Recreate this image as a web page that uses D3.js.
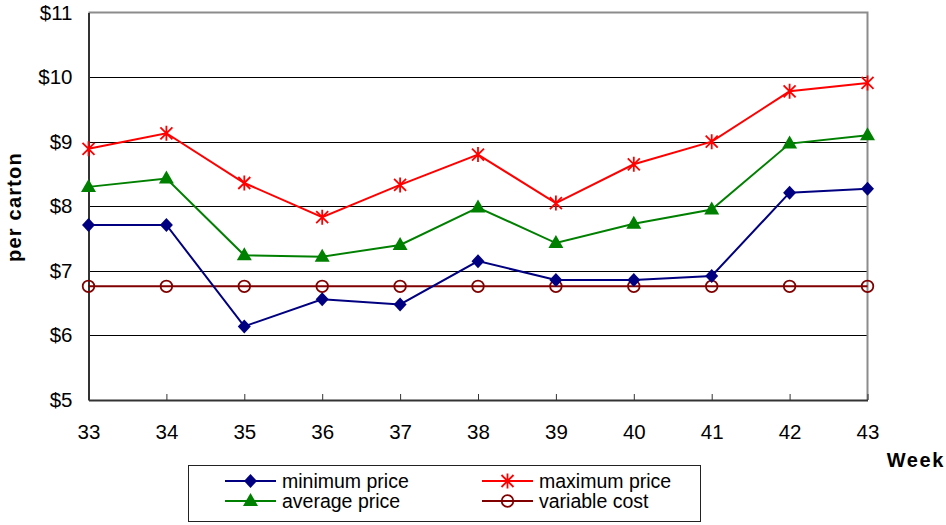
<!DOCTYPE html>
<html>
<head>
<meta charset="utf-8">
<script src="https://cdn.jsdelivr.net/npm/d3@7"></script>
<style>
  html, body { margin: 0; padding: 0; background: #fff; }
  svg { display: block; font-family: "Liberation Sans", Arial, sans-serif; }
</style>
</head>
<body>
<svg id="chart" width="946" height="525"></svg>
<script>
// Weekly carton prices
const weeks = [33, 34, 35, 36, 37, 38, 39, 40, 41, 42, 43];
const minPrice = [7.71, 7.71, 6.14, 6.56, 6.48, 7.15, 6.86, 6.86, 6.92, 8.21, 8.27];
const maxPrice = [8.89, 9.13, 8.36, 7.83, 8.33, 8.80, 8.05, 8.65, 9.00, 9.78, 9.91];
const avgPrice = [8.30, 8.43, 7.24, 7.22, 7.40, 7.98, 7.43, 7.73, 7.95, 8.97, 9.10];
const variableCost = [6.76, 6.76, 6.76, 6.76, 6.76, 6.76, 6.76, 6.76, 6.76, 6.76, 6.76];
const priceTicks = [5, 6, 7, 8, 9, 10, 11];

const seriesList = [
  { name: "minimum price", values: minPrice, color: "#000080", marker: "diamond" },
  { name: "maximum price", values: maxPrice, color: "#ff0000", marker: "asterisk" },
  { name: "average price", values: avgPrice, color: "#008000", marker: "triangle" },
  { name: "variable cost", values: variableCost, color: "#800000", marker: "circle" }
];

const svg = d3.select("#chart");
const plot = { left: 88.5, right: 867.5, top: 12.5, bottom: 400 };

const x = d3.scaleLinear().domain([33, 43]).range([plot.left, plot.right]);
const y = d3.scaleLinear().domain([5, 11]).range([plot.bottom, plot.top]);

// horizontal gridlines
svg.append("g")
  .selectAll("line")
  .data(priceTicks.slice(1, -1))
  .join("line")
  .attr("x1", plot.left).attr("x2", plot.right)
  .attr("y1", d => Math.round(y(d)) + 0.5).attr("y2", d => Math.round(y(d)) + 0.5)
  .attr("stroke", "#000").attr("stroke-width", 1.2);

// top and right frame
svg.append("path")
  .attr("d", `M${plot.left},${plot.top}H${plot.right}V${plot.bottom}`)
  .attr("fill", "none").attr("stroke", "#8c8c8c").attr("stroke-width", 2);

// y axis
const yAxis = svg.append("g")
  .attr("transform", `translate(${plot.left},0)`)
  .call(d3.axisLeft(y).tickValues(priceTicks).tickFormat(d => "$" + d).tickSize(0).tickPadding(16));
yAxis.select(".domain").attr("stroke", "#333").attr("stroke-width", 2);
yAxis.selectAll("text").attr("font-size", 20.5).attr("fill", "#000")
  .attr("font-family", "Liberation Sans, Arial, sans-serif");

// x axis with inward ticks
const xAxis = svg.append("g")
  .attr("transform", `translate(0,${plot.bottom})`)
  .call(d3.axisBottom(x).tickValues(weeks).tickFormat(d3.format("d")).tickSizeInner(-6).tickSizeOuter(0).tickPadding(24));
xAxis.select(".domain").attr("stroke", "#333").attr("stroke-width", 2);
xAxis.selectAll(".tick line").attr("stroke", "#333").attr("stroke-width", 1);
xAxis.selectAll("text").attr("font-size", 20.5).attr("fill", "#000")
  .attr("font-family", "Liberation Sans, Arial, sans-serif");

// axis titles
svg.append("text")
  .attr("transform", "translate(21,207) rotate(-90)")
  .attr("text-anchor", "middle")
  .attr("font-size", 20).attr("font-weight", "bold").attr("letter-spacing", 1.2)
  .text("per carton");
svg.append("text")
  .attr("x", 945).attr("y", 467)
  .attr("text-anchor", "end")
  .attr("font-size", 20).attr("font-weight", "bold").attr("letter-spacing", 1.6)
  .text("Week");

// marker drawing
function drawMarker(g, type, color) {
  if (type === "diamond") {
    g.append("path").attr("d", "M0,-7L6.5,0L0,7L-6.5,0Z").attr("fill", color);
  } else if (type === "triangle") {
    g.append("path").attr("d", "M0,-8L7.5,5L-7.5,5Z").attr("fill", color);
  } else if (type === "asterisk") {
    g.append("path").attr("d", "M-6,-6L6,6M-6,6L6,-6M0,-7.5V7.5")
      .attr("stroke", color).attr("stroke-width", 1.8).attr("fill", "none");
  } else if (type === "circle") {
    g.append("circle").attr("r", 5.8).attr("fill", "none")
      .attr("stroke", color).attr("stroke-width", 1.8);
  }
}

const line = d3.line().x((d, i) => x(weeks[i])).y(d => y(d));

// draw series back to front so minimum price sits on top of variable cost
const drawOrder = [seriesList[3], seriesList[1], seriesList[2], seriesList[0]];
drawOrder.forEach(s => {
  const g = svg.append("g");
  g.append("path").datum(s.values).attr("d", line)
    .attr("fill", "none").attr("stroke", s.color).attr("stroke-width", 2);
  s.values.forEach((v, i) => {
    drawMarker(g.append("g").attr("transform", `translate(${x(weeks[i])},${y(v)})`), s.marker, s.color);
  });
});

// legend
const legend = svg.append("g");
legend.append("rect")
  .attr("x", 188.5).attr("y", 465.5).attr("width", 512).attr("height", 56)
  .attr("fill", "#fff").attr("stroke", "#222").attr("stroke-width", 1);
const legendPos = [
  { x: 225, y: 481 }, { x: 482, y: 481 },
  { x: 225, y: 501 }, { x: 482, y: 501 }
];
seriesList.forEach((s, i) => {
  const p = legendPos[i];
  const g = legend.append("g").attr("transform", `translate(${p.x},${p.y})`);
  g.append("line").attr("x1", 0).attr("x2", 51).attr("stroke", s.color).attr("stroke-width", 2);
  drawMarker(g.append("g").attr("transform", "translate(25.5,0)"), s.marker, s.color);
  g.append("text").attr("x", 57).attr("y", 6.5)
    .attr("font-size", 19.5).attr("fill", "#000").text(s.name);
});
</script>
</body>
</html>
